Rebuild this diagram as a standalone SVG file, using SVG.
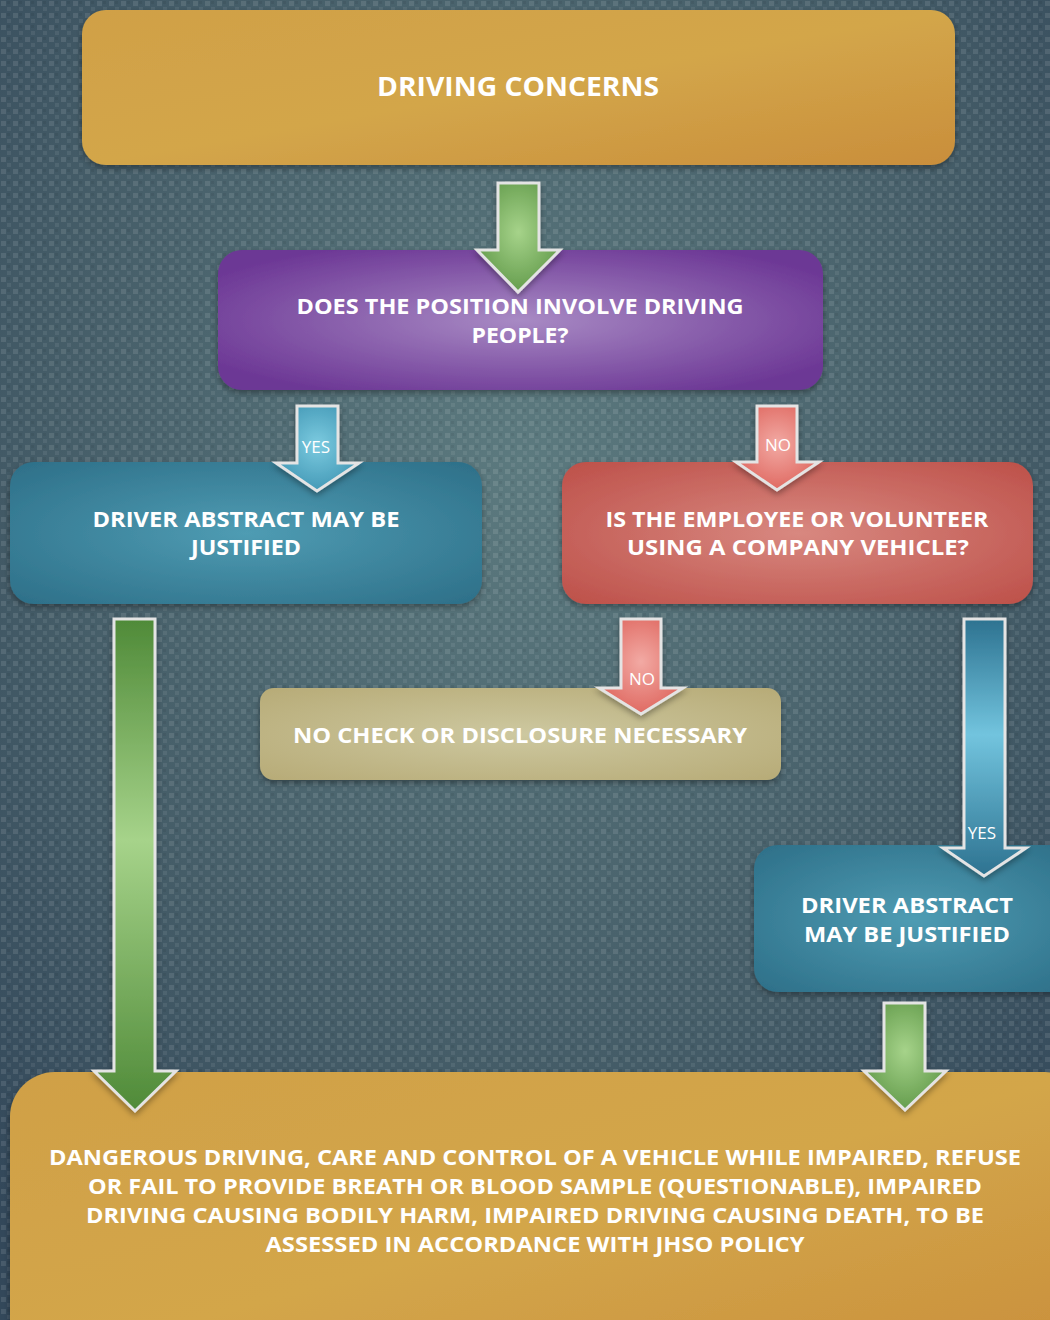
<svg xmlns="http://www.w3.org/2000/svg" width="1050" height="1320" viewBox="0 0 1050 1320">
<defs>
<radialGradient id="bg" cx="0.5" cy="0.35" r="0.75">
<stop offset="0" stop-color="#5c7a7f"/>
<stop offset="0.6" stop-color="#455d68"/>
<stop offset="1" stop-color="#33485a"/>
</radialGradient>
<pattern id="tex" width="12" height="12" patternUnits="userSpaceOnUse">
<rect x="1" y="1" width="5" height="5" fill="#ffffff" opacity="0.10"/>
<rect x="7" y="7" width="4" height="4" fill="#ffffff" opacity="0.07"/>
<rect x="7" y="1" width="3" height="3" fill="#000000" opacity="0.06"/>
</pattern>
<linearGradient id="gOrange" x1="0" y1="0" x2="1" y2="1">
<stop offset="0" stop-color="#d0a046"/>
<stop offset="0.5" stop-color="#d3a64a"/>
<stop offset="1" stop-color="#c98e3b"/>
</linearGradient>
<radialGradient id="gPurple" cx="0.5" cy="0.5" r="0.6">
<stop offset="0" stop-color="#a88ac4"/>
<stop offset="1" stop-color="#6c3795"/>
</radialGradient>
<radialGradient id="gBlue" cx="0.5" cy="0.5" r="0.7">
<stop offset="0" stop-color="#4f9cb3"/>
<stop offset="1" stop-color="#2d6f88"/>
</radialGradient>
<radialGradient id="gRed" cx="0.5" cy="0.5" r="0.7">
<stop offset="0" stop-color="#d88880"/>
<stop offset="1" stop-color="#bd5049"/>
</radialGradient>
<radialGradient id="gBeige" cx="0.5" cy="0.5" r="0.7">
<stop offset="0" stop-color="#cdc8a0"/>
<stop offset="1" stop-color="#b7ab77"/>
</radialGradient>
<radialGradient id="aGreen" cx="0.5" cy="0.45" r="0.6">
<stop offset="0" stop-color="#a6d38a"/>
<stop offset="1" stop-color="#5f9848"/>
</radialGradient>
<linearGradient id="aGreenLong" x1="0" y1="0" x2="0" y2="1">
<stop offset="0" stop-color="#4f8a38"/>
<stop offset="0.45" stop-color="#a6d38a"/>
<stop offset="1" stop-color="#4f8a38"/>
</linearGradient>
<radialGradient id="aBlue" cx="0.5" cy="0.45" r="0.6">
<stop offset="0" stop-color="#7ccbe0"/>
<stop offset="1" stop-color="#3f95b3"/>
</radialGradient>
<linearGradient id="aBlueLong" x1="0" y1="0" x2="0" y2="1">
<stop offset="0" stop-color="#2d7290"/>
<stop offset="0.45" stop-color="#72c4de"/>
<stop offset="1" stop-color="#2d7290"/>
</linearGradient>
<radialGradient id="aRed" cx="0.5" cy="0.45" r="0.6">
<stop offset="0" stop-color="#f2aaa4"/>
<stop offset="1" stop-color="#de645c"/>
</radialGradient>
<filter id="sh" x="-10%" y="-10%" width="120%" height="130%">
<feDropShadow dx="0" dy="3" stdDeviation="3" flood-color="#000" flood-opacity="0.35"/>
</filter>
</defs>
<style>
.t{font-family:"Open Sans","Liberation Sans",sans-serif;font-weight:700;fill:#ffffff;text-anchor:middle;font-size:22px}
.big{font-size:26px}
.lbl{font-family:"Open Sans","Liberation Sans",sans-serif;font-weight:400;fill:#ffffff;text-anchor:middle;font-size:17px}
.arr{stroke:#e4e4e4;stroke-width:3;stroke-linejoin:miter;filter:url(#sh)}
</style>
<rect width="1050" height="1320" fill="url(#bg)"/>
<rect width="1050" height="1320" fill="url(#tex)"/>

<g id="n1"><rect x="82" y="10" width="873" height="155" rx="24" fill="url(#gOrange)" filter="url(#sh)"/>
<text class="t big" x="518" y="96" textLength="282" lengthAdjust="spacingAndGlyphs">DRIVING CONCERNS</text></g>

<g id="n2"><rect x="218" y="250" width="605" height="140" rx="24" fill="url(#gPurple)" filter="url(#sh)"/>
<text class="t" x="520" y="314" textLength="447" lengthAdjust="spacingAndGlyphs">DOES THE POSITION INVOLVE DRIVING</text>
<text class="t" x="520" y="343" textLength="97" lengthAdjust="spacingAndGlyphs">PEOPLE?</text></g>

<g id="n3"><rect x="10" y="462" width="472" height="142" rx="24" fill="url(#gBlue)" filter="url(#sh)"/>
<text class="t" x="246" y="527" textLength="307" lengthAdjust="spacingAndGlyphs">DRIVER ABSTRACT MAY BE</text>
<text class="t" x="246" y="555" textLength="110" lengthAdjust="spacingAndGlyphs">JUSTIFIED</text></g>

<g id="n4"><rect x="562" y="462" width="471" height="142" rx="24" fill="url(#gRed)" filter="url(#sh)"/>
<text class="t" x="797" y="527" textLength="383" lengthAdjust="spacingAndGlyphs">IS THE EMPLOYEE OR VOLUNTEER</text>
<text class="t" x="798" y="555" textLength="342" lengthAdjust="spacingAndGlyphs">USING A COMPANY VEHICLE?</text></g>

<g id="n5"><rect x="260" y="688" width="521" height="92" rx="14" fill="url(#gBeige)" filter="url(#sh)"/>
<text class="t" x="520" y="743" textLength="454" lengthAdjust="spacingAndGlyphs">NO CHECK OR DISCLOSURE NECESSARY</text></g>

<g id="n6"><rect x="754" y="845" width="320" height="147" rx="24" fill="url(#gBlue)" filter="url(#sh)"/>
<text class="t" x="907" y="913" textLength="212" lengthAdjust="spacingAndGlyphs">DRIVER ABSTRACT</text>
<text class="t" x="907" y="942" textLength="206" lengthAdjust="spacingAndGlyphs">MAY BE JUSTIFIED</text></g>

<g id="n7"><rect x="10" y="1072" width="1080" height="300" rx="45" fill="url(#gOrange)" filter="url(#sh)"/>
<text class="t" x="535" y="1165" textLength="972" lengthAdjust="spacingAndGlyphs">DANGEROUS DRIVING, CARE AND CONTROL OF A VEHICLE WHILE IMPAIRED, REFUSE</text>
<text class="t" x="535" y="1194" textLength="894" lengthAdjust="spacingAndGlyphs">OR FAIL TO PROVIDE BREATH OR BLOOD SAMPLE (QUESTIONABLE), IMPAIRED</text>
<text class="t" x="535" y="1223" textLength="898" lengthAdjust="spacingAndGlyphs">DRIVING CAUSING BODILY HARM, IMPAIRED DRIVING CAUSING DEATH, TO BE</text>
<text class="t" x="535" y="1252" textLength="539" lengthAdjust="spacingAndGlyphs">ASSESSED IN ACCORDANCE WITH JHSO POLICY</text></g>

<g id="connectors">
<path class="arr" fill="url(#aGreen)" d="M498,183 H539 V250 H560 L518,292 L477,250 H498 Z"/>
<path class="arr" fill="url(#aBlue)" d="M297,406 H338 V463 H359 L317,491 L276,463 H297 Z"/>
<text class="lbl" x="316" y="453">YES</text>
<path class="arr" fill="url(#aRed)" d="M757,406 H797 V462 H819 L777,490 L736,462 H757 Z"/>
<text class="lbl" x="778" y="451">NO</text>
<path class="arr" fill="url(#aRed)" d="M621,619 H661 V688 H683 L641,714 L599,688 H621 Z"/>
<text class="lbl" x="642" y="685">NO</text>
<path class="arr" fill="url(#aBlueLong)" d="M964,619 H1005 V848 H1026 L984,876 L943,848 H964 Z"/>
<text class="lbl" x="982" y="839">YES</text>
<path class="arr" fill="url(#aGreenLong)" d="M114,619 H155 V1071 H176 L135,1111 L94,1071 H114 Z"/>
<path class="arr" fill="url(#aGreen)" d="M884,1003 H925 V1071 H946 L905,1110 L864,1071 H884 Z"/>
</g>
</svg>
